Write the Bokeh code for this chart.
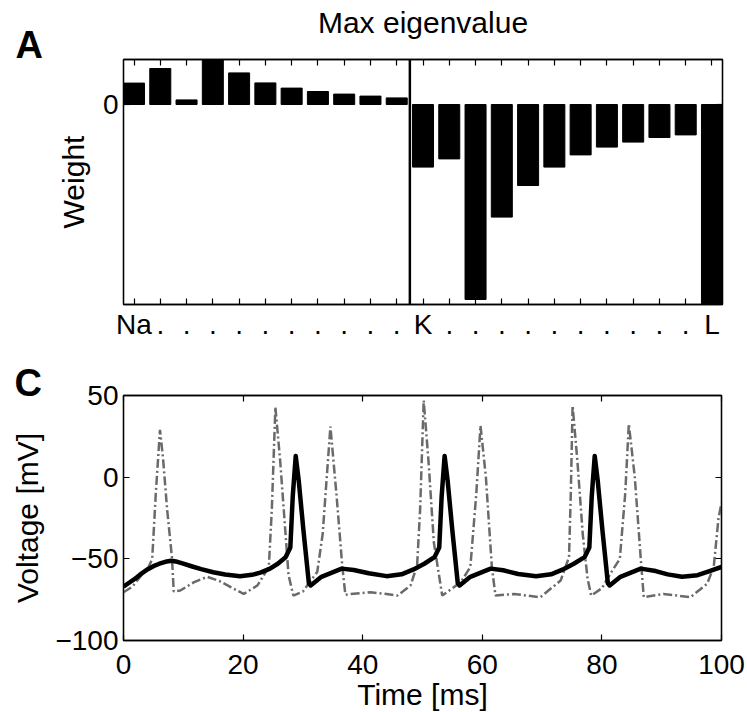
from bokeh.plotting import figure
from bokeh.layouts import column
from bokeh.models import Range1d, FixedTicker, LinearAxis, Span, Title, Spacer
from bokeh.embed import file_html
from bokeh.resources import INLINE

FONT = "Liberation Sans"

# ---------------- Panel A data ----------------
channels = list(range(1, 24))
channel_labels = ["Na"] + ["."] * 10 + ["K"] + ["."] * 10 + ["L"]
na_weights = [0.107, 0.18, 0.023, 0.225, 0.158, 0.108, 0.082, 0.065, 0.052, 0.042, 0.033]
k_weights = [-0.313, -0.272, -0.975, -0.563, -0.405, -0.313, -0.252, -0.213, -0.188, -0.165, -0.152]
l_weights = [-1.0]
weights = na_weights + k_weights + l_weights

# ---------------- Panel C data ----------------
t_solid = [0, 1, 2, 3, 4, 5, 6, 7, 8, 9, 10, 11.5, 13, 15, 17, 19.5, 21.5, 23, 24.5, 25.8,
           27.1, 27.9, 28.3, 28.8, 29.3, 30.1, 31.0, 31.3, 33.1, 36.5, 38.5, 41, 44, 46.5, 48.5, 50.3,
           52.0, 52.8, 53.2, 53.7, 54.2, 55.0, 55.9, 56.2, 58, 61.4, 63.5, 66, 69, 71.5, 73.5, 75.3,
           77.1, 77.9, 78.3, 78.8, 79.3, 80.1, 81.0, 81.3, 83.1, 86.5, 89, 91, 93.4, 96, 98, 100]
v_solid = [-67, -64.5, -62, -59, -56.5, -54.5, -53, -51.8, -51.2, -51.8, -53, -54.7, -56.3, -58.2, -59.6, -60.6, -59.8, -58.3, -56, -53,
           -49, -43, -12, 13, -2, -33, -65, -66.3, -61, -56, -56.8, -58.8, -60.6, -59.5, -56.5, -53,
           -49, -43, -12, 13, -2, -33, -65, -66.3, -61, -56, -57, -59.3, -60.6, -59.5, -56.5, -53,
           -49, -43, -12, 13, -2, -33, -65, -66.3, -61, -56, -57.5, -59.5, -61, -60, -57.5, -55]

t_dash = [0, 1.5, 3, 4.2, 4.8, 5.4, 6.1, 6.6, 7.3, 8.1, 8.4, 9.5, 11.8, 14, 16, 18, 20.1, 22.4, 24.3, 24.8,
          25.4, 26.2, 27.0, 27.6, 28.4, 30, 32.4, 33.3, 34.6, 35.6, 36.6, 37.1, 38, 41.3, 44, 45.8,
          48, 49.1, 49.6, 50.2, 51.0, 51.9, 53.3, 55, 56.4, 58, 59.0, 59.7, 60.6, 61.6, 62.2, 65.3,
          69.7, 73.1, 74.5, 74.8, 75.1, 75.9, 76.8, 77.6, 78.2, 80, 81.4, 83.0, 83.9, 84.5, 85.5,
          86.5, 87, 90.3, 94.8, 97.6, 98.7, 99.5, 100]
v_dash = [-70.5, -67, -60, -55, -50, -10, 29, 12, -20, -49, -70, -69.4, -64.3, -61, -63.5, -67.5, -71.5, -66.3, -55, -20,
          42.8, 10, -30, -60, -72.5, -70, -58, -35, 31, -10, -55, -72, -71.5, -70.5, -71.5, -72.5,
          -66.3, -54, -20, 47, 10, -40, -72.5, -68, -64.3, -55, -10, 31.6, 0, -55, -72.5, -71.5,
          -73.5, -63.3, -49, -10, 43.9, 10, -35, -62, -72.5, -68, -59.2, -50, -10, 32.6, 0,
          -50, -73.5, -71.5, -73.5, -65.3, -55, -25, -16]

x_ticks_c = [0, 20, 40, 60, 80, 100]
y_ticks_c = [-100, -50, 0, 50]
y_tick_labels_c = {-100: "\u2212100", -50: "\u221250", 0: "0", 50: "50"}


def style_axis(ax, size="28px"):
    ax.major_tick_in = 6
    ax.major_tick_out = 0
    ax.minor_tick_line_color = None
    ax.axis_line_color = "black"
    ax.axis_line_width = 1.3
    ax.major_tick_line_color = "black"
    ax.major_tick_line_width = 1.2
    ax.major_label_text_font = FONT
    ax.major_label_text_font_size = size
    ax.major_label_text_color = "black"
    ax.axis_label_text_font = FONT
    ax.axis_label_text_font_size = "30px"
    ax.axis_label_text_font_style = "normal"
    ax.axis_label_text_color = "black"


def mirror_axis(p, ticks, side):
    ax = LinearAxis(ticker=FixedTicker(ticks=ticks))
    style_axis(ax, size="2px")
    ax.major_label_text_color = None
    ax.major_label_standoff = 0
    p.add_layout(ax, side)


def heading(text, size, bold=False, **kw):
    return Title(text=text, text_font=FONT, text_font_size=size,
                 text_font_style="bold" if bold else "normal", text_color="black", **kw)


# ---------------- Panel A ----------------
top = figure(title=None, frame_width=599, frame_height=245,
             min_border_left=122, min_border_right=26, min_border_top=56, min_border_bottom=53,
             x_range=Range1d(0.6, 23.4), y_range=Range1d(-1.0, 0.225),
             output_backend="svg", toolbar_location=None)
top.vbar(x=channels, top=weights, width=0.8, color="black")
top.add_layout(Span(location=len(na_weights) + 0.5, dimension="height",
                    line_color="black", line_width=2.5))
top.xgrid.visible = False
top.ygrid.visible = False
top.outline_line_color = "black"
top.outline_line_width = 1.3
top.xaxis.ticker = FixedTicker(ticks=channels)
top.xaxis.major_label_overrides = {c: lab for c, lab in zip(channels, channel_labels)}
top.yaxis.ticker = FixedTicker(ticks=[0])
top.yaxis.axis_label = "Weight"
for ax in top.xaxis + top.yaxis:
    style_axis(ax)
top.xaxis.major_label_standoff = 4
top.yaxis.major_label_standoff = 5
top.yaxis.axis_label_standoff = 10
mirror_axis(top, channels, "above")
mirror_axis(top, [0], "right")
top.add_layout(heading("A", "38px", bold=True, align="left", offset=-108, standoff=-12), "above")
top.add_layout(heading("Max eigenvalue", "30px", align="center", standoff=-22), "above")

# ---------------- Panel C ----------------
bot = figure(title=None, frame_width=598, frame_height=245,
             min_border_left=123, min_border_right=26, min_border_top=38, min_border_bottom=72,
             x_range=Range1d(0, 100), y_range=Range1d(-100, 50),
             output_backend="svg", toolbar_location=None)
bot.line(t_dash, v_dash, line_color="#6a6a6a", line_width=2.5, line_dash="9 3 2 3")
bot.line(t_solid, v_solid, line_color="black", line_width=4.5, line_join="round")
bot.xgrid.visible = False
bot.ygrid.visible = False
bot.outline_line_color = "black"
bot.outline_line_width = 1.3
bot.xaxis.ticker = FixedTicker(ticks=x_ticks_c)
bot.yaxis.ticker = FixedTicker(ticks=y_ticks_c)
bot.yaxis.major_label_overrides = y_tick_labels_c
bot.yaxis.axis_label = "Voltage [mV]"
for ax in bot.xaxis + bot.yaxis:
    style_axis(ax)
bot.xaxis.major_label_standoff = 14
bot.yaxis.major_label_standoff = 5
bot.yaxis.axis_label_standoff = 8
mirror_axis(bot, x_ticks_c, "above")
mirror_axis(bot, y_ticks_c, "right")
bot.add_layout(heading("C", "38px", bold=True, align="left", offset=-109, standoff=-17), "above")
bot.add_layout(heading("Time [ms]", "30px", align="center", vertical_align="top", standoff=2), "below")

layout = column(Spacer(width=747, height=3), top, bot, spacing=0)
open("out.html", "w").write(file_html(layout, INLINE))
